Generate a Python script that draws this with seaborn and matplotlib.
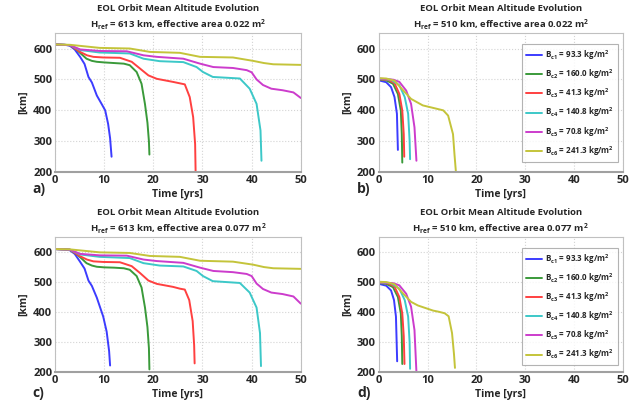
import numpy as np
import pandas as pd
import matplotlib
matplotlib.use('Agg')
import matplotlib.pyplot as plt
import seaborn as sns

# 数据
labels = ['B$_{c1}$ = 93.3 kg/m$^2$', 'B$_{c2}$ = 160.0 kg/m$^2$', 'B$_{c3}$ = 41.3 kg/m$^2$',
          'B$_{c4}$ = 140.8 kg/m$^2$', 'B$_{c5}$ = 70.8 kg/m$^2$', 'B$_{c6}$ = 241.3 kg/m$^2$']
colors = ['#3c3cff', '#3a9a3a', '#ff4040', '#3cc8c8', '#cc3ccc', '#c4c43a']

titles = ['EOL Orbit Mean Altitude Evolution\nH$_{ref}$ = 613 km, effective area 0.022 m$^2$',
          'EOL Orbit Mean Altitude Evolution\nH$_{ref}$ = 510 km, effective area 0.022 m$^2$',
          'EOL Orbit Mean Altitude Evolution\nH$_{ref}$ = 613 km, effective area 0.077 m$^2$',
          'EOL Orbit Mean Altitude Evolution\nH$_{ref}$ = 510 km, effective area 0.077 m$^2$']
letters = ['a)', 'b)', 'c)', 'd)']

# panel a
a1_t = [0, 2, 3, 4, 5.1, 6, 6.8, 7.5, 8.5, 9.5, 10.2, 10.8, 11.2, 11.5]
a1_h = [613, 612, 609, 597, 573, 550, 508, 490, 448, 420, 400, 356, 310, 250]
a2_t = [0, 3, 4.4, 5.5, 6.4, 7.5, 8.5, 10, 12, 14, 15.2, 16.6, 17.6, 18.3, 18.8, 19.1, 19.2]
a2_h = [613, 611, 596, 580, 567, 560, 557, 555, 553, 551, 546, 524, 486, 420, 360, 300, 257]
a3_t = [0, 3, 5.1, 6.5, 7.8, 9.8, 13.2, 15.6, 17.3, 19, 20.7, 24, 26.4, 27.4, 28.1, 28.5, 28.6]
a3_h = [613, 611, 589, 578, 573, 571, 570, 557, 535, 513, 502, 492, 484, 443, 378, 291, 200]
a4_t = [0, 3, 5.1, 9.1, 15.2, 18, 21.3, 26.1, 28.8, 30.1, 32.1, 37.6, 39.6, 41, 41.8, 42]
a4_h = [613, 611, 595, 587, 584, 567, 559, 556, 540, 524, 508, 503, 470, 421, 335, 237]
a5_t = [0, 3, 5.1, 9.1, 14.6, 18, 20.7, 26.1, 29.5, 32.2, 36.2, 39, 40, 41, 42.3, 44, 46.3, 48.5, 50]
a5_h = [613, 611, 597, 592, 591, 578, 573, 567, 551, 540, 537, 530, 523, 500, 482, 470, 465, 458, 440]
a6_t = [0, 3, 9.1, 15.2, 19.3, 25.4, 29.5, 36.2, 40.3, 42.5, 44.4, 50]
a6_h = [613, 612, 602, 600, 589, 586, 573, 571, 560, 553, 549, 547]

# panel b
b1_t = [0, 1.5, 2.5, 3.2, 3.7, 3.9]
b1_h = [497, 491, 475, 443, 389, 272]
b2_t = [0, 1.5, 2.9, 3.9, 4.5, 4.7, 4.8]
b2_h = [500, 497, 486, 453, 399, 323, 231]
b3_t = [0, 2, 3.2, 4.2, 4.8, 5.1, 5.2]
b3_h = [501, 498, 488, 453, 399, 323, 250]
b4_t = [0, 2.5, 4.2, 5.3, 6.0, 6.3, 6.4]
b4_h = [502, 499, 481, 443, 389, 302, 242]
b5_t = [0, 3, 4.2, 5.6, 6.6, 7.3, 7.7]
b5_h = [503, 499, 492, 464, 421, 345, 237]
b6_t = [0, 1.5, 3.2, 4.9, 6.6, 9.0, 11.1, 13.2, 14.2, 15.2, 15.5, 15.8]
b6_h = [504, 503, 496, 466, 437, 416, 408, 400, 383, 323, 258, 200]

# panel c
c1_t = [0, 2, 3, 4, 5, 6, 6.8, 7.5, 8.5, 9.8, 10.5, 11.0, 11.2]
c1_h = [610, 609, 606, 594, 570, 545, 505, 487, 448, 385, 335, 270, 222]
c2_t = [0, 3, 4.4, 5.5, 6.4, 7.5, 8.5, 10, 12, 14, 15.2, 16.6, 17.6, 18.3, 18.8, 19.1, 19.2]
c2_h = [610, 608, 593, 577, 563, 555, 551, 549, 548, 546, 541, 520, 482, 415, 350, 280, 209]
c3_t = [0, 3, 5.1, 6.5, 7.8, 9.8, 13.2, 15.6, 17.3, 19, 20.7, 24, 25.4, 26.4, 27.3, 28, 28.3, 28.4]
c3_h = [610, 608, 586, 575, 569, 567, 566, 553, 530, 505, 494, 484, 478, 475, 440, 370, 290, 229]
c4_t = [0, 3, 5.1, 9.1, 15.2, 18, 21.3, 26.1, 28.8, 30.1, 32.1, 37.6, 39.6, 41, 41.7, 41.9]
c4_h = [610, 608, 592, 584, 580, 563, 555, 552, 537, 520, 503, 497, 465, 415, 330, 220]
c5_t = [0, 3, 5.1, 9.1, 14.6, 18, 20.7, 26.1, 29.5, 32.2, 36.2, 39, 40, 41, 42.3, 44, 46.3, 48.5, 50]
c5_h = [610, 608, 594, 589, 588, 575, 570, 564, 548, 537, 533, 527, 520, 495, 477, 465, 460, 452, 428]
c6_t = [0, 3, 9.1, 15.2, 19.3, 25.4, 29.5, 36.2, 40.3, 42.5, 44.4, 50]
c6_h = [610, 609, 599, 597, 587, 584, 571, 568, 558, 550, 546, 544]

# panel d
d1_t = [0, 1.5, 2.5, 3.1, 3.5, 3.75]
d1_h = [494, 488, 472, 440, 385, 236]
d2_t = [0, 1.5, 2.9, 3.9, 4.5, 4.7, 4.8]
d2_h = [497, 494, 483, 450, 395, 320, 227]
d3_t = [0, 2, 3.2, 4.2, 4.8, 5.1, 5.25]
d3_h = [498, 495, 485, 450, 395, 320, 227]
d4_t = [0, 2.5, 4.2, 5.3, 6.0, 6.3, 6.4]
d4_h = [499, 496, 478, 440, 385, 300, 211]
d5_t = [0, 3, 4.2, 5.6, 6.6, 7.3, 7.7]
d5_h = [500, 496, 489, 461, 418, 340, 200]
d6_t = [0, 1.5, 3.2, 4.9, 6.6, 8.0, 11.1, 12.3, 13.5, 14.3, 15.0, 15.4, 15.6]
d6_h = [501, 500, 493, 463, 434, 422, 405, 401, 396, 386, 330, 260, 214]

panels = [
    [(a1_t, a1_h), (a2_t, a2_h), (a3_t, a3_h), (a4_t, a4_h), (a5_t, a5_h), (a6_t, a6_h)],
    [(b1_t, b1_h), (b2_t, b2_h), (b3_t, b3_h), (b4_t, b4_h), (b5_t, b5_h), (b6_t, b6_h)],
    [(c1_t, c1_h), (c2_t, c2_h), (c3_t, c3_h), (c4_t, c4_h), (c5_t, c5_h), (c6_t, c6_h)],
    [(d1_t, d1_h), (d2_t, d2_h), (d3_t, d3_h), (d4_t, d4_h), (d5_t, d5_h), (d6_t, d6_h)],
]

sns.set_style('whitegrid')
plt.rcParams['font.family'] = ['Open Sans', 'DejaVu Sans']
plt.rcParams['font.weight'] = 'bold'
plt.rcParams['mathtext.fontset'] = 'custom'
plt.rcParams['mathtext.rm'] = 'Open Sans:bold'
plt.rcParams['mathtext.bf'] = 'Open Sans:bold'
plt.rcParams['mathtext.default'] = 'bf'

fig = plt.figure(figsize=(6.4, 4.08), dpi=100)

# 子图位置
positions = [[0.086, 0.578, 0.384, 0.341],
             [0.592, 0.578, 0.381, 0.341],
             [0.086, 0.088, 0.384, 0.331],
             [0.592, 0.088, 0.381, 0.331]]
letter_pos = [(0.050, 0.527), (0.558, 0.527), (0.050, 0.027), (0.558, 0.027)]

for i in range(4):
    ax = fig.add_axes(positions[i])
    rows = []
    for j, (t, h) in enumerate(panels[i]):
        rows.append(pd.DataFrame({'t': t, 'h': h, 'case': labels[j]}))
    df = pd.concat(rows, ignore_index=True)
    sns.lineplot(data=df, x='t', y='h', hue='case', hue_order=labels, palette=colors,
                 sort=False, estimator=None, lw=1.4, ax=ax, legend=(i % 2 == 1))
    ax.set_xlim(0, 50)
    ax.set_ylim(200, 650)
    ax.set_xticks([0, 10, 20, 30, 40, 50])
    ax.set_yticks([200, 300, 400, 500, 600])
    ax.grid(True, color='#d4d4d4', linestyle=':', linewidth=0.8)
    for s in ax.spines.values():
        s.set_color('#c0c0c0')
        s.set_linewidth(0.8)
    ax.spines['bottom'].set_color('#a0a0a0')
    ax.spines['bottom'].set_linewidth(1.5)
    ax.tick_params(labelsize=8, length=2, direction='in', color='#999999', pad=2)
    for lab in ax.get_xticklabels() + ax.get_yticklabels():
        lab.set_fontweight('bold')
    ax.set_xlabel('Time [yrs]', fontsize=7.5, fontweight='bold', labelpad=2)
    ax.set_ylabel('[km]', fontsize=7.5, fontweight='bold', labelpad=3)
    ax.set_title(titles[i], fontsize=6.8, fontweight='bold', pad=4, linespacing=1.4)
    if i % 2 == 1:
        leg = ax.legend(loc='upper left', bbox_to_anchor=(0.585, 0.92), fontsize=5.8,
                        frameon=True, fancybox=False, handlelength=2.0, labelspacing=0.68,
                        borderpad=0.5, handletextpad=0.4, borderaxespad=0)
        leg.get_frame().set_edgecolor('#a0a0a0')
        leg.get_frame().set_linewidth(0.8)
        for t in leg.get_texts():
            t.set_fontweight('bold')
    fig.text(letter_pos[i][0], letter_pos[i][1], letters[i], fontsize=10, fontweight='bold')

plt.savefig('out.png', dpi=100)
